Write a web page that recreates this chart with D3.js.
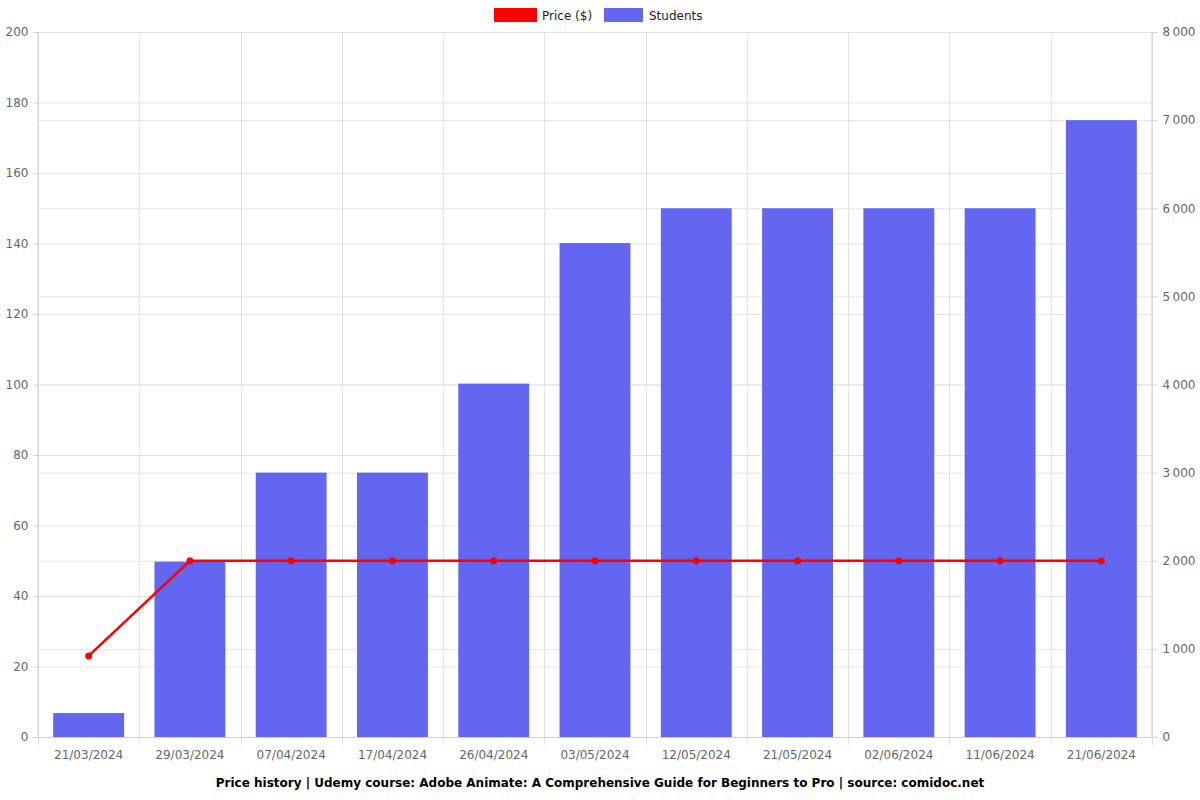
<!DOCTYPE html>
<html><head><meta charset="utf-8">
<script src="https://cdn.jsdelivr.net/npm/d3@7"></script>
<style>body{margin:0;background:#fff;font-family:"DejaVu Sans",sans-serif;}</style>
</head><body><svg id="c" width="1200" height="800"></svg>
<script>
const categories = ["21/03/2024","29/03/2024","07/04/2024","17/04/2024","26/04/2024","03/05/2024","12/05/2024","21/05/2024","02/06/2024","11/06/2024","21/06/2024"];
const priceValues = [22.99,49.99,49.99,49.99,49.99,49.99,49.99,49.99,49.99,49.99,49.99];
const studentValues = [272,1990,3000,3000,4010,5605,6000,6000,6000,6000,7000];
const leftTicks = [0,20,40,60,80,100,120,140,160,180,200];
const rightTicks = [0,1000,2000,3000,4000,5000,6000,7000,8000];
const titleText = "Price history | Udemy course: Adobe Animate: A Comprehensive Guide for Beginners to Pro | source: comidoc.net";

const svg = d3.select("#c");
const m = {l:38, r:1152, t:32, b:737};
const x = d3.scaleBand().domain(categories).range([m.l, m.r]).paddingInner(0).paddingOuter(0);
const yL = d3.scaleLinear().domain([0,200]).range([m.b, m.t]);
const yR = d3.scaleLinear().domain([0,8000]).range([m.b, m.t]);
const fmt = v => d3.format(",")(v).replace(/,/g, "\u2009");

// gridlines
const g = svg.append("g");
g.selectAll(".gl").data(leftTicks).join("line")
  .attr("x1", m.l).attr("x2", m.r).attr("y1", d=>yL(d)+0.5).attr("y2", d=>yL(d)+0.5)
  .attr("stroke", "#e3e3e3").attr("stroke-width",1);
g.selectAll(".gr").data(rightTicks).join("line")
  .attr("x1", m.l).attr("x2", m.r).attr("y1", d=>yR(d)+0.5).attr("y2", d=>yR(d)+0.5)
  .attr("stroke", "#e3e3e3").attr("stroke-width",1);
const bounds = categories.map(c=>x(c)).concat([m.r]);
g.selectAll(".gv").data(bounds).join("line")
  .attr("x1", d=>Math.round(d)+0.5).attr("x2", d=>Math.round(d)+0.5).attr("y1", m.t).attr("y2", m.b+8)
  .attr("stroke", "#e3e3e3").attr("stroke-width",1);

// bars
const bw = x.bandwidth()*0.7;
svg.append("g").selectAll("rect").data(studentValues).join("rect")
  .attr("x", (d,i)=>x(categories[i]) + (x.bandwidth()-bw)/2)
  .attr("width", bw)
  .attr("y", d=>yR(d)).attr("height", d=>m.b - yR(d))
  .attr("fill", "#6366f1");

// axes
const axL = d3.axisLeft(yL).tickValues(leftTicks).tickSize(5).tickPadding(5);
const axR = d3.axisRight(yR).tickValues(rightTicks).tickFormat(fmt).tickSize(5).tickPadding(5);
const axB = d3.axisBottom(x).tickSize(0).tickPadding(13);
function style(sel){
  sel.selectAll("path").attr("stroke","#cfcfcf");
  sel.selectAll("line").attr("stroke","#cfcfcf");
  sel.selectAll("text").attr("fill","#666").style("font-size","12px").style("font-family","DejaVu Sans");
}
svg.append("g").attr("transform",`translate(${m.l+0.5},0)`).call(axL).call(style).select(".domain").attr("d",`M-0.5,${m.t}V${m.b}`);
svg.append("g").attr("transform",`translate(${m.r+0.5},0)`).call(axR).call(style).select(".domain").attr("d",`M-0.5,${m.t}V${m.b}`);
const xb = svg.append("g").attr("transform",`translate(0,${m.b+0.5})`).call(axB).call(style);
xb.select(".domain").attr("d",`M${m.l},0H${m.r}`);

// price line
const line = d3.line().x((d,i)=>x(categories[i])+x.bandwidth()/2).y(d=>yL(d));
svg.append("path").datum(priceValues).attr("d", line).attr("fill","none").attr("stroke","#ff0000").attr("stroke-width",2.5);
svg.append("g").selectAll("circle").data(priceValues).join("circle")
  .attr("cx",(d,i)=>x(categories[i])+x.bandwidth()/2).attr("cy", d=>yL(d)).attr("r",3.5).attr("fill","#ff0000");

// legend
const lg = svg.append("g").style("font-family","DejaVu Sans").style("font-size","12px");
lg.append("rect").attr("x",494).attr("y",8).attr("width",43).attr("height",14).attr("fill","#ff0000");
lg.append("text").attr("x",542).attr("y",20).text("Price ($)").attr("fill","#222");
lg.append("rect").attr("x",604).attr("y",8).attr("width",39).attr("height",14).attr("fill","#6366f1");
lg.append("text").attr("x",649).attr("y",20).text("Students").attr("fill","#222");

// title
svg.append("text").attr("x",600).attr("y",787).attr("text-anchor","middle")
  .style("font-family","DejaVu Sans").style("font-size","12px").style("font-weight","bold").attr("fill","#000").text(titleText);
</script></body></html>
